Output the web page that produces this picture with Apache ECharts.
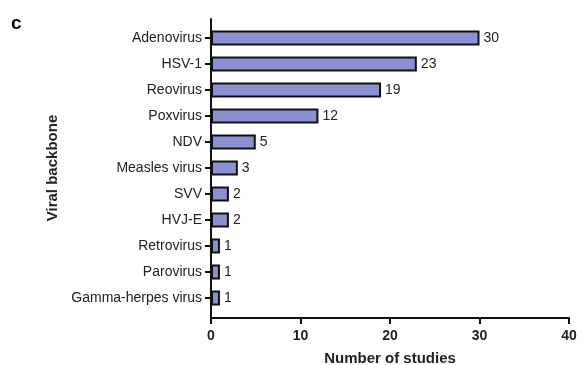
<!DOCTYPE html>
<html>
<head>
<meta charset="utf-8">
<script src="https://cdn.jsdelivr.net/npm/echarts@6/dist/echarts.min.js"></script>
<style>
  html, body { margin: 0; padding: 0; background: #fff; }
  #chart { width: 582px; height: 365px; }
</style>
</head>
<body>
<div id="chart"></div>
<script>
// Viral backbones, top to bottom, and the number of studies using each
const backbones = ['Adenovirus', 'HSV-1', 'Reovirus', 'Poxvirus', 'NDV', 'Measles virus',
                   'SVV', 'HVJ-E', 'Retrovirus', 'Parovirus', 'Gamma-herpes virus'];
const studies = [30, 23, 19, 12, 5, 3, 2, 2, 1, 1, 1];
const xTicks = [0, 10, 20, 30, 40];

const FONT = '"Liberation Sans", Arial, sans-serif';
const INK = '#111';
const TEXT = '#222';

const chart = echarts.init(document.getElementById('chart'));
chart.setOption({
  animation: false,
  backgroundColor: '#fff',
  textStyle: { fontFamily: FONT },
  title: {
    text: 'c', left: 11, top: 14, padding: 0,
    textStyle: { fontFamily: FONT, fontSize: 19, fontWeight: 'bold', color: '#000' }
  },
  grid: [
    // plotting area for the bars
    { left: 211, right: 13, top: 25, bottom: 54, outerBoundsMode: 'none' },
    // taller frame that only carries the long vertical axis line
    { left: 211, right: 13, top: 19, bottom: 47, outerBoundsMode: 'none' }
  ],
  xAxis: [
    {
      gridIndex: 0, type: 'value',
      min: xTicks[0], max: xTicks[xTicks.length - 1], interval: 10,
      offset: 7,
      name: 'Number of studies', nameLocation: 'middle', nameGap: 33,
      nameTextStyle: { fontFamily: FONT, fontSize: 15, fontWeight: 'bold', color: TEXT },
      axisLine: { show: true, lineStyle: { color: INK, width: 2 } },
      axisTick: { show: true, length: 6, lineStyle: { color: INK, width: 2 } },
      axisLabel: { fontFamily: FONT, fontSize: 14, fontWeight: 'bold', color: TEXT, margin: 11 },
      splitLine: { show: false }
    },
    { gridIndex: 1, type: 'value', show: false, min: 0, max: 1 }
  ],
  yAxis: [
    {
      gridIndex: 0, type: 'category', inverse: true, data: backbones,
      name: 'Viral backbone', nameLocation: 'middle', nameGap: 148, nameRotate: 90,
      nameTextStyle: { fontFamily: FONT, fontSize: 15, fontWeight: 'bold', color: TEXT },
      axisLine: { show: false },
      axisTick: { show: true, alignWithLabel: true, length: 6, lineStyle: { color: INK, width: 2 } },
      axisLabel: { fontFamily: FONT, fontSize: 14, color: TEXT, margin: 9 },
      splitLine: { show: false }
    },
    {
      gridIndex: 1, type: 'value', min: 0, max: 1,
      axisLine: { show: true, lineStyle: { color: INK, width: 2 } },
      axisTick: { show: false }, axisLabel: { show: false }, splitLine: { show: false }
    }
  ],
  series: [{
    type: 'bar',
    xAxisIndex: 0, yAxisIndex: 0,
    data: studies,
    barWidth: 15,
    itemStyle: { color: '#8B90D3', borderColor: INK, borderWidth: 2 },
    label: {
      show: true, position: 'right', distance: 4,
      fontFamily: FONT, fontSize: 14, color: TEXT
    }
  }]
});
</script>
</body>
</html>
